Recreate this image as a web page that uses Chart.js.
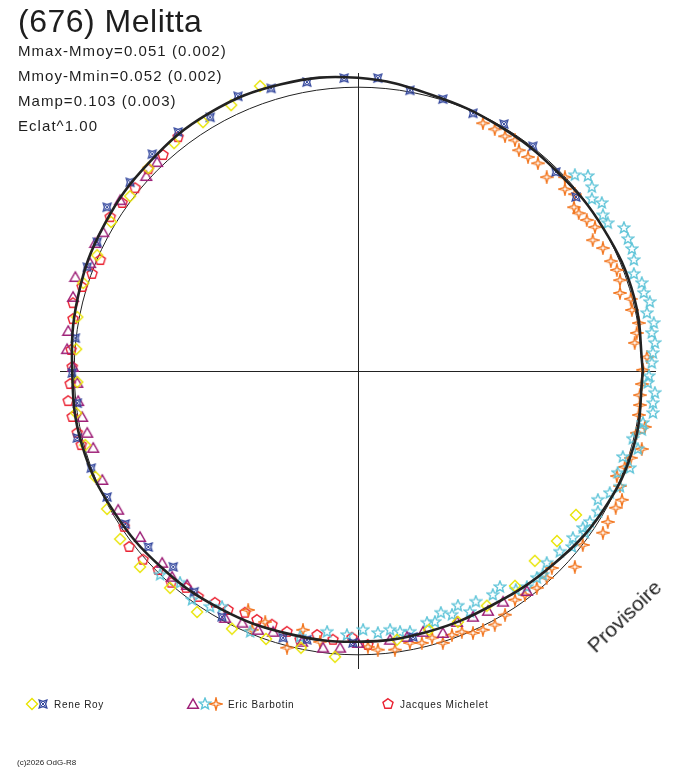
<!DOCTYPE html>
<html>
<head>
<meta charset="utf-8">
<script src="https://cdn.jsdelivr.net/npm/chart.js@4.4.1/dist/chart.umd.min.js"></script>
<style>
  body { margin: 0; background: #fff; }
  #wrap { position: relative; width: 688px; height: 768px; overflow: hidden; font-family: "Liberation Sans", Arial, sans-serif; color: #1e1e1e; }
  #wrap canvas#chart { position: absolute; left: 0; top: 0; }
  .t { position: absolute; white-space: nowrap; line-height: 1; }
  .title { left: 18px; top: 5px; font-size: 32px; letter-spacing: 0.5px; }
  .stat { left: 18px; font-size: 15px; letter-spacing: 1.05px; }
  .leg { font-size: 10px; letter-spacing: 0.7px; top: 700px; color: #222; }
  .mk { position: absolute; }
  .copy { left: 17px; top: 759px; font-size: 8px; letter-spacing: 0px; }
  .prov { left: 624px; top: 616px; font-size: 21px; transform: translate(-50%, -50%) rotate(-44deg); color: #222; }
</style>
</head>
<body>
<div id="wrap">
  <canvas id="chart" width="688" height="768"></canvas>
  <div class="t title">(676) Melitta</div>
  <div class="t stat" style="top:43px">Mmax-Mmoy=0.051 (0.002)</div>
  <div class="t stat" style="top:68px">Mmoy-Mmin=0.052 (0.002)</div>
  <div class="t stat" style="top:93px">Mamp=0.103 (0.003)</div>
  <div class="t stat" style="top:118px">Eclat^1.00</div>
  <div class="t leg" style="left:54px">Rene Roy</div>
  <div class="t leg" style="left:228px">Eric Barbotin</div>
  <div class="t leg" style="left:400px">Jacques Michelet</div>
  <div class="t copy">(c)2026 OdG-R8</div>
  <div class="t prov">Provisoire</div>
</div>
<script>
// -------------------------------------------------------------------
// Data (x, y in units of the reference circle radius = 100)
// -------------------------------------------------------------------
const royDiamond = [
  [-34.5,100.4],[-44.7,93.7],[-54.6,87.7],[-64.8,80.3],[-73.9,71.5],[-80.3,61.6],[-87.0,52.5],[-91.9,40.8],
  [-96.8,31.0],[-98.9,19.0],[-99.3,7.7],[-98.9,-3.9],[-99.3,-14.8],[-96.1,-26.1],[-92.6,-37.3],[-88.4,-48.6],
  [-83.8,-59.2],[-76.8,-69.0],[-66.2,-76.4],[-56.7,-84.9],[-44.4,-90.8],[-32.4,-94.4],[-20.1,-97.5],[-8.1,-100.7],
  [13.7,-94.7],[25.0,-91.2],[35.2,-88.4],[45.4,-82.7],[55.3,-75.7],[62.3,-66.9],[70.1,-59.9],[76.8,-50.7]
];

const royStar = [
  [-72.5,76.4],[-63.4,84.2],[-52.1,89.4],[-42.3,96.8],[-30.6,99.6],[-18.0,101.8],[-4.9,103.2],[7.0,103.2],
  [18.3,98.9],[29.9,95.8],[40.5,90.8],[51.4,87.0],[61.6,79.2],[69.7,70.1],[76.8,61.3],
  [-80.3,66.5],[-88.4,57.7],[-91.9,45.4],[-95.4,36.6],[-99.6,11.6],[-100.7,-0.7],[-98.9,-11.3],[-98.9,-23.6],
  [-94.0,-34.2],[-88.4,-44.4],[-82.0,-53.9],[-73.9,-62.0],[-65.1,-69.0],[-57.7,-77.8],[-47.9,-86.6],
  [-26.4,-94.0],[-18.0,-94.7],[-1.8,-95.8],[19.4,-93.7]
];

const barbotinTriangle = [
  [-70.8,73.6],[-74.6,68.7],[-83.8,60.2],[-89.8,48.9],[-92.6,45.1],[-94.4,38.0],[-99.6,33.1],[-100.4,26.1],
  [-102.1,14.1],[-102.5,7.7],[-100.4,1.4],[-98.9,-4.2],[-98.6,-10.6],[-97.2,-16.2],[-95.4,-21.8],[-93.3,-27.1],
  [-90.1,-38.4],[-84.5,-48.9],[-76.8,-58.5],[-69.0,-67.6],[-65.5,-72.5],[-60.2,-75.4],[-46.8,-87.0],[-40.8,-88.7],
  [-35.2,-91.2],[-29.9,-91.9],[-19.7,-95.4],[-12.3,-97.5],[-6.3,-97.5],[0.0,-95.8],[11.3,-94.7],[17.3,-93.7],
  [22.9,-91.9],[29.9,-92.3],[34.9,-88.4],[40.5,-86.6],[45.8,-84.5],[51.1,-81.3],[59.5,-77.5]
];

const barbotinStar5 = [
  [-69.7,-71.8],[-62.7,-74.6],[-58.5,-80.6],[-52.1,-83.1],[-47.9,-83.1],[-38.0,-91.9],[-20.4,-93.7],[-10.9,-91.9],
  [-3.9,-93.0],[1.8,-91.2],[7.0,-92.3],[11.3,-91.2],[14.8,-91.9],[18.3,-91.9],[24.3,-88.7],[27.1,-88.4],
  [29.2,-85.2],[33.1,-85.9],[35.2,-82.7],[39.4,-84.9],[41.5,-81.3],[47.5,-78.9],[50.0,-76.1],[55.6,-77.1],
  [59.5,-76.1],[63.0,-72.9],[65.1,-71.8],[66.5,-67.6],[71.1,-63.7],[75.4,-62.0],[75.7,-58.8],[79.9,-57.0],
  [79.2,-55.3],[81.7,-53.2],[84.5,-49.6],[84.5,-45.4],[88.7,-43.0],[92.3,-40.8],[91.5,-35.9],[95.8,-34.2],
  [93.3,-30.3],[98.6,-27.5],[96.8,-23.9],[100.0,-20.8],[100.4,-18.3],[103.9,-14.8],[103.9,-11.3],[104.6,-7.7],
  [102.1,-4.2],[102.5,-1.8],[103.5,2.8],[103.9,6.3],[104.6,9.9],[103.5,13.4],[104.2,16.9],[101.8,20.4],
  [102.8,24.3],[100.7,27.5],[100.0,31.0],[97.2,34.2],[97.2,39.1],[96.5,43.0],[95.1,46.5],[93.7,50.4],
  [88.0,52.1],[86.3,54.9],[85.9,59.2],[82.4,60.6],[82.4,64.8],[81.0,68.7],[76.4,69.0]
];

const barbotinStar4 = [
  [44.0,87.3],[48.2,85.2],[51.8,82.7],[55.3,81.3],[56.7,77.8],[59.9,75.4],[63.4,73.2],[66.5,68.3],
  [72.9,68.3],[72.9,64.1],[76.4,62.3],[76.1,57.7],[77.8,55.6],[80.6,53.2],[83.5,50.7],[82.7,46.1],
  [86.3,43.3],[89.1,38.7],[91.2,35.6],[92.3,32.0],[92.3,27.5],[96.1,25.4],[96.5,21.5],[98.9,16.9],
  [98.2,13.4],[97.5,9.9],[101.8,4.9],[100.4,0.4],[100.0,-4.6],[99.3,-8.5],[99.3,-12.0],[98.9,-15.5],
  [101.1,-19.7],[98.2,-21.8],[100.0,-27.5],[96.1,-30.6],[94.0,-33.8],[91.2,-37.0],[92.3,-40.5],[93.0,-45.4],
  [90.8,-48.2],[88.0,-53.2],[86.3,-57.0],[79.2,-61.3],[76.4,-69.0],[68.3,-69.4],[66.5,-72.9],[63.0,-76.4],
  [58.8,-78.9],[55.3,-80.6],[51.8,-85.9],[48.2,-89.4],[44.0,-91.2],[40.5,-92.3],[36.6,-91.9],[33.1,-93.0],
  [29.9,-95.8],[26.1,-94.0],[22.5,-95.8],[18.3,-95.8],[13.0,-98.2],[7.0,-98.2],[3.5,-97.2],[-13.4,-95.4],
  [-25.0,-97.5],[-19.4,-91.2],[-37.3,-91.2],[-32.7,-88.4],[-38.7,-84.2]
];

const michelet = [
  [-63.4,82.4],[-68.7,76.1],[-73.9,71.1],[-78.5,64.4],[-83.1,59.2],[-87.3,54.2],[-90.8,39.1],[-93.7,34.2],
  [-97.2,29.6],[-100.4,23.9],[-100.4,18.3],[-101.1,7.4],[-100.7,1.4],[-101.4,-4.6],[-102.1,-10.6],[-100.7,-16.2],
  [-98.9,-21.8],[-97.5,-26.1],[-82.4,-54.9],[-80.6,-62.0],[-75.7,-66.5],[-70.4,-70.1],[-65.8,-74.6],[-60.6,-76.4],
  [-56.3,-79.6],[-50.4,-81.7],[-45.8,-84.2],[-39.8,-85.2],[-35.6,-87.7],[-30.3,-89.4],[-25.0,-91.9],[-20.4,-94.7],
  [-14.4,-93.0],[-8.8,-94.7],[-2.1,-94.0],[3.5,-96.5]
];

// Fourier fit, read every 15 degrees of phase angle
const fitAngle  = [0,15,30,45,60,75,90,105,120,135,150,165,180,195,210,225,240,255,270,285,300,315,330,345];
const fitRadius = [100.4,100.7,100.0,99.3,99.6,100.7,103.3,104.6,104.9,104.0,103.2,102.1,
                   100.7,100.7,99.3,97.9,96.8,95.8,95.4,95.1,95.1,96.8,99.3,100.7];

const REF_RADIUS = 100;
const AXIS_MAX   = 105;

// -------------------------------------------------------------------
// Markers
// -------------------------------------------------------------------
const COLORS = {
  yellow: "#e8e400",
  blue:   "#34489e",
  purple: "#9e2078",
  cyan:   "#5ec4d8",
  orange: "#f2761f",
  red:    "#ea2232"
};

function polyPoints(n, rOut, rIn, start) {
  const pts = [];
  const step = Math.PI / n;
  for (let i = 0; i < n * 2; i++) {
    const r = (i % 2 === 0) ? rOut : rIn;
    const a = start + i * step;
    pts.push([r * Math.cos(a), r * Math.sin(a)]);
  }
  return pts;
}

function makeMarker(color, pts, extra) {
  const c = document.createElement("canvas");
  c.width = 14; c.height = 14;
  const ctx = c.getContext("2d");
  ctx.strokeStyle = color;
  ctx.lineWidth = 1.4;
  ctx.lineJoin = "miter";
  ctx.translate(7, 7);
  ctx.beginPath();
  pts.forEach((p, i) => i ? ctx.lineTo(p[0], p[1]) : ctx.moveTo(p[0], p[1]));
  ctx.closePath();
  ctx.stroke();
  if (extra) extra(ctx);
  return c;
}

const up = -Math.PI / 2;
const mkDiamond  = makeMarker(COLORS.yellow, [[0,-5.5],[5.5,0],[0,5.5],[-5.5,0]]);
const mkBlue     = makeMarker(COLORS.blue, polyPoints(4, 5.4, 2.6, -Math.PI / 4), ctx => {
  ctx.lineWidth = 1;
  ctx.beginPath();
  ctx.moveTo(-2,-2); ctx.lineTo(2,2);
  ctx.moveTo(2,-2);  ctx.lineTo(-2,2);
  ctx.stroke();
});
const mkTriangle = makeMarker(COLORS.purple, [[0,-5.2],[5.4,4.3],[-5.4,4.3]]);
const mkStar5    = makeMarker(COLORS.cyan, polyPoints(5, 5.9, 2.6, up));
const mkStar4    = makeMarker(COLORS.orange, polyPoints(4, 6, 1.7, up));
const mkPentagon = makeMarker(COLORS.red, polyPoints(5, 5.3, 5.3, up).filter((p, i) => i % 2 === 0));

// -------------------------------------------------------------------
// Chart
// -------------------------------------------------------------------
function toXY(list) {
  return list.map(p => ({ x: p[0], y: p[1] }));
}

function fitXY() {
  const pts = fitAngle.map((a, i) => ({
    x: fitRadius[i] * Math.cos(a * Math.PI / 180),
    y: fitRadius[i] * Math.sin(a * Math.PI / 180)
  }));
  pts.push(pts[0]);
  return pts;
}

function scatterSet(label, list, marker, order) {
  return {
    label, data: toXY(list), pointStyle: marker, pointRadius: 7,
    showLine: false, order, clip: false
  };
}

// reference circle and the two axes through the origin
const frame = {
  id: "frame",
  beforeDatasetsDraw(chart) {
    const { ctx, chartArea: a, scales: { x, y } } = chart;
    const cx = x.getPixelForValue(0), cy = y.getPixelForValue(0);
    const r  = x.getPixelForValue(REF_RADIUS) - cx;
    ctx.save();
    ctx.strokeStyle = "#222";
    ctx.lineWidth = 1;
    ctx.beginPath();
    ctx.moveTo(a.left, Math.round(cy) + 0.5);  ctx.lineTo(a.right, Math.round(cy) + 0.5);
    ctx.moveTo(Math.round(cx) + 0.5, a.top);   ctx.lineTo(Math.round(cx) + 0.5, a.bottom);
    ctx.stroke();
    ctx.beginPath();
    ctx.arc(cx, cy, r, 0, Math.PI * 2);
    ctx.stroke();
    ctx.restore();
  }
};

new Chart(document.getElementById("chart"), {
  type: "scatter",
  data: {
    datasets: [
      {
        label: "fit", data: fitXY(), type: "line", showLine: true,
        borderColor: "#222", borderWidth: 2.6, pointRadius: 0,
        tension: 0.4, fill: false, order: 0, clip: false
      },
      scatterSet("Rene Roy", royDiamond, mkDiamond, 1),
      scatterSet("Rene Roy", royStar, mkBlue, 2),
      scatterSet("Eric Barbotin", barbotinTriangle, mkTriangle, 3),
      scatterSet("Eric Barbotin", barbotinStar5, mkStar5, 4),
      scatterSet("Eric Barbotin", barbotinStar4, mkStar4, 5),
      scatterSet("Jacques Michelet", michelet, mkPentagon, 6)
    ]
  },
  options: {
    responsive: false,
    animation: false,
    events: [],
    layout: { padding: { left: 60, right: 32, top: 73, bottom: 99 } },
    plugins: { legend: { display: false }, tooltip: { enabled: false } },
    scales: {
      x: { type: "linear", min: -AXIS_MAX, max: AXIS_MAX, display: false },
      y: { type: "linear", min: -AXIS_MAX, max: AXIS_MAX, display: false }
    }
  },
  plugins: [frame]
});

// -------------------------------------------------------------------
// Legend markers
// -------------------------------------------------------------------
function placeMarker(marker, cx, cy) {
  const c = document.createElement("canvas");
  c.width = 14; c.height = 14;
  c.className = "mk";
  c.style.left = (cx - 7) + "px";
  c.style.top  = (cy - 7) + "px";
  c.getContext("2d").drawImage(marker, 0, 0);
  document.getElementById("wrap").appendChild(c);
}

placeMarker(mkDiamond, 32, 704);
placeMarker(mkBlue, 43, 704);
placeMarker(mkTriangle, 193, 704);
placeMarker(mkStar5, 205, 704);
placeMarker(mkStar4, 216, 704);
placeMarker(mkPentagon, 388, 704);
</script>
</body>
</html>
